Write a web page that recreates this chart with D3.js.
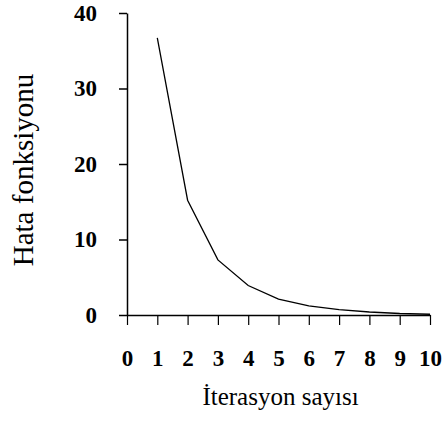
<!DOCTYPE html>
<html>
<head>
<meta charset="utf-8">
<script src="https://cdn.jsdelivr.net/npm/d3@7"></script>
<style>
  body { margin: 0; background: #fff; }
  svg text { font-family: "Liberation Serif", "Times New Roman", serif; fill: #000; }
</style>
</head>
<body>
<div id="chart"></div>
<script>
// chart size
const width = 448;
const height = 434;
const margin = {left: 127, right: 18, top: 13, bottom: 119};

// data
const iterations = [1, 2, 3, 4, 5, 6, 7, 8, 9, 10];
const errorValues = [36.7, 15.2, 7.3, 3.9, 2.1, 1.2, 0.7, 0.4, 0.2, 0.1];
const xTicks = [0, 1, 2, 3, 4, 5, 6, 7, 8, 9, 10];
const yTicks = [0, 10, 20, 30, 40];
const xTitle = "İterasyon sayısı";
const yTitle = "Hata fonksiyonu";

const svg = d3.select("#chart")
  .append("svg")
  .attr("width", width)
  .attr("height", height);

const x = d3.scaleLinear()
  .domain([0, 10])
  .range([margin.left, width - margin.right]);

const y = d3.scaleLinear()
  .domain([0, 40])
  .range([height - margin.bottom, margin.top]);

// y axis
const yAxis = svg.append("g")
  .attr("transform", `translate(${margin.left},0)`)
  .call(d3.axisLeft(y).tickValues(yTicks).tickSizeInner(8).tickSizeOuter(0).tickPadding(22));
yAxis.select(".domain").attr("stroke-width", 1.5);
yAxis.selectAll(".tick line").attr("stroke-width", 1.5);
yAxis.selectAll("text")
  .attr("font-size", "23px")
  .attr("font-weight", "bold");

// x axis
const xAxis = svg.append("g")
  .attr("transform", `translate(0,${height - margin.bottom})`)
  .call(d3.axisBottom(x).tickValues(xTicks).tickSizeInner(10).tickSizeOuter(0).tickPadding(25));
xAxis.select(".domain").attr("stroke-width", 1.5);
xAxis.selectAll(".tick line").attr("stroke-width", 1.2);
xAxis.selectAll("text")
  .attr("font-size", "23px")
  .attr("font-weight", "bold");

// the error curve
const line = d3.line()
  .x((d, i) => x(iterations[i]))
  .y(d => y(d));

svg.append("path")
  .datum(errorValues)
  .attr("fill", "none")
  .attr("stroke", "#000")
  .attr("stroke-width", 1.3)
  .attr("d", line);

// axis titles
svg.append("text")
  .attr("x", (margin.left + width - margin.right) / 2 + 2)
  .attr("y", 405)
  .attr("text-anchor", "middle")
  .attr("font-size", "25px")
  .text(xTitle);

svg.append("text")
  .attr("transform", "translate(33,170) rotate(-90)")
  .attr("text-anchor", "middle")
  .attr("font-size", "29px")
  .text(yTitle);
</script>
</body>
</html>
